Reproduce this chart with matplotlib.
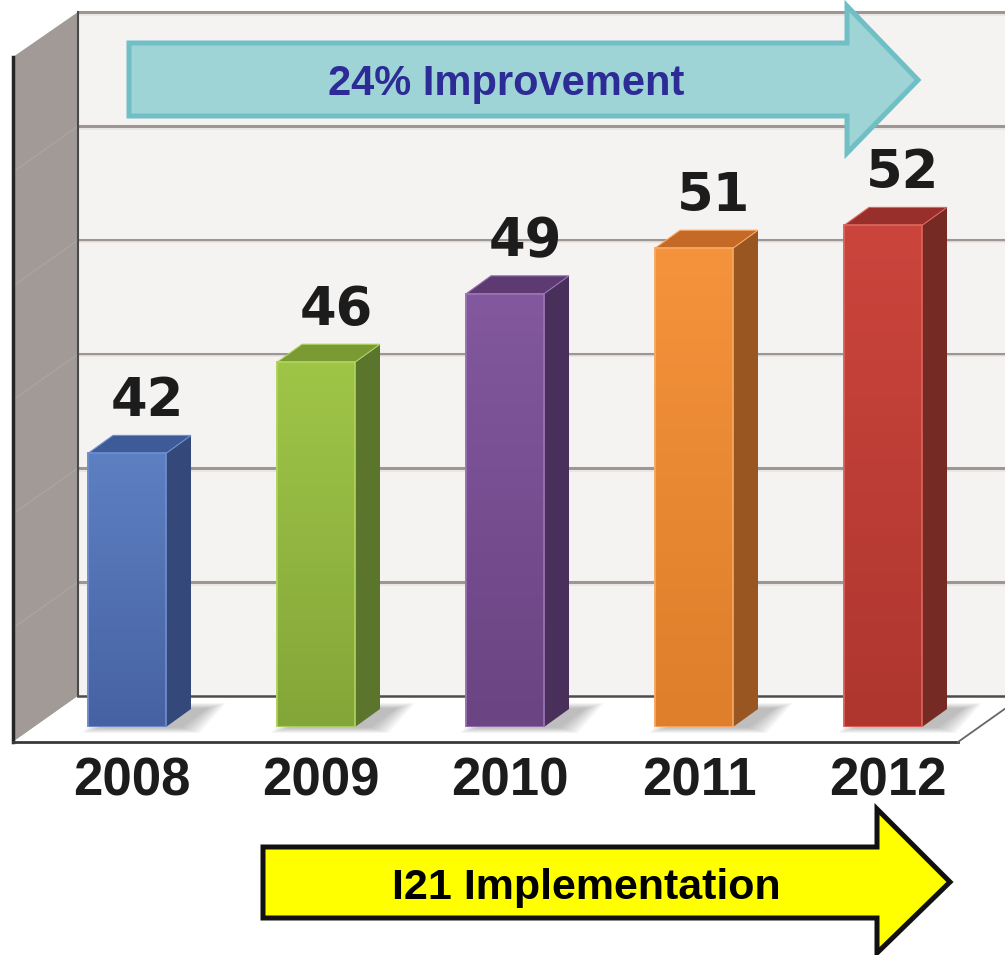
import numpy as np
import matplotlib
matplotlib.use('Agg')
import matplotlib.pyplot as plt
from matplotlib.patches import Polygon, Rectangle
from matplotlib.transforms import ScaledTranslation
from matplotlib.colors import LinearSegmentedColormap

# data
years = ['2008', '2009', '2010', '2011', '2012']
scores = [42, 46, 49, 51, 52]
y_min, y_max, y_step = 30, 60, 5
improvement_text = '24% Improvement'
implementation_text = 'I21 Implementation'

# colours per bar: front top / front bottom / side / top face / edge
front_hi = ['#5d80c2', '#9fc547', '#83589e', '#f4933b', '#cb453c']
front_lo = ['#4762a2', '#84a639', '#6a4483', '#df7e2b', '#ae362f']
side_col = ['#34497a', '#5c752c', '#48305a', '#9a5620', '#762a24']
top_col = ['#3e5b97', '#7a9b34', '#5d3b72', '#c56a26', '#992f2a']
edge_col = ['#6f90cf', '#b0d460', '#9a74b2', '#f8aa66', '#dc675e']

W, H = 1005, 955
fig = plt.figure(figsize=(W / 100, H / 100), dpi=100)
fig.patch.set_facecolor('white')

# pixel axes for the "room" (walls, floor) and for the arrows
bg = fig.add_axes([0, 0, 1, 1], zorder=0)
bg.set_xlim(0, W)
bg.set_ylim(H, 0)
bg.axis('off')

# data axes = front plane of the bars
base_px, top_px = 727, 43
ax = fig.add_axes([0, (H - base_px) / H, 1, (base_px - top_px) / H], zorder=1)
ax.patch.set_alpha(0)
ax.set_ylim(y_min, y_max)
ax.set_xlim(-127 / 189, (W - 127) / 189)
for s in ax.spines.values():
    s.set_visible(False)
ax.set_yticks([])

fg = fig.add_axes([0, 0, 1, 1], zorder=2)
fg.set_xlim(0, W)
fg.set_ylim(H, 0)
fg.axis('off')


def to_px(x, y):
    return bg.transData.inverted().transform(ax.transData.transform((x, y)))


# back wall sits 44px right / 31px up from the bar front plane
wall_dx, wall_dy = 44, 31
floor_dx, floor_dy = 65, 46
g = {v: to_px(0, v)[1] - wall_dy for v in range(y_min, y_max + 1, y_step)}
wall_x = to_px(-127 / 189, 0)[0] + 78
left_x = wall_x - floor_dx

bg.add_patch(Rectangle((wall_x, g[y_max]), W - wall_x, g[y_min] - g[y_max],
                       facecolor='#f5f3f2', edgecolor='none'))
bg.add_patch(Polygon([(left_x, g[y_max] + floor_dy - 1), (wall_x, g[y_max]),
                      (wall_x, g[y_min]), (left_x, g[y_min] + floor_dy)],
                     closed=True, facecolor='#a19a96', edgecolor='none'))
for v in range(y_min + y_step, y_max, y_step):
    bg.plot([wall_x, left_x], [g[v], g[v] + floor_dy], color='#aba5a1', lw=1)

# floor
fr = W - 47
bg.add_patch(Polygon([(wall_x, g[y_min]), (fr + floor_dx, g[y_min]),
                      (fr, g[y_min] + floor_dy), (left_x, g[y_min] + floor_dy)],
                     closed=True, facecolor='white', edgecolor='none'))

# gridlines on back wall
for v in range(y_min + y_step, y_max + 1, y_step):
    bg.plot([wall_x, W], [g[v], g[v]], color='#9d9693', lw=2.2, solid_capstyle='butt')
    bg.plot([wall_x, W], [g[v] + 2.5, g[v] + 2.5], color='#e9e4e2', lw=1.2)
bg.plot([wall_x, W], [g[y_min], g[y_min]], color='#4d4d4d', lw=1.8)
bg.plot([wall_x, wall_x], [g[y_max], g[y_min]], color='#4a4a4a', lw=1.5)
bg.plot([left_x, left_x], [g[y_max] + floor_dy - 1, g[y_min] + floor_dy],
        color='#262626', lw=2.5)
bg.plot([left_x, fr], [g[y_min] + floor_dy] * 2, color='#3a3a3a', lw=2)
bg.plot([fr, fr + floor_dx], [g[y_min] + floor_dy, g[y_min]], color='#666666', lw=1.3)

# bars
bw = 78 / 189
p0 = ax.transData.transform((0, y_min))
ddx, ddy = ax.transData.inverted().transform(p0 + np.array([25, 18])) - np.array([0, y_min])

for i, v in enumerate(scores):
    xl, xr = i - bw / 2, i + bw / 2

    # soft shadow on the floor
    bl = to_px(xl, y_min)
    br = to_px(xr, y_min)
    for k in range(8):
        e = 2 + 2.5 * k
        bg.add_patch(Polygon([(bl[0] + 14 - e, bl[1] + e * 0.3), (br[0] + 14 + e, br[1] + e * 0.3),
                              (br[0] + 40 + e, br[1] - 18 - e * 0.3), (bl[0] + 40 - e, bl[1] - 18 - e * 0.3)],
                             closed=True, facecolor='#5e5e5e', edgecolor='none', alpha=0.06))

    bar = ax.bar(i, v - y_min, bottom=y_min, width=bw, color=front_lo[i],
                 edgecolor=edge_col[i], linewidth=1.2, zorder=3)[0]
    cmap = LinearSegmentedColormap.from_list('f%d' % i, [front_lo[i], front_hi[i]])
    im = ax.imshow(np.linspace(0, 1, 100).reshape(-1, 1), cmap=cmap,
                   extent=(xl, xr, y_min, v), aspect='auto', origin='lower',
                   zorder=3.5, vmin=0, vmax=1)
    im.set_clip_path(bar)
    ax.add_patch(Rectangle((xl, y_min), bw, v - y_min, facecolor='none',
                           edgecolor=edge_col[i], lw=1.2, zorder=3.6))
    ax.add_patch(Polygon([(xr, y_min), (xr + ddx, y_min + ddy), (xr + ddx, v + ddy), (xr, v)],
                         closed=True, facecolor=side_col[i], edgecolor='none', zorder=3))
    ax.add_patch(Polygon([(xl, v), (xr, v), (xr + ddx, v + ddy), (xl + ddx, v + ddy)],
                         closed=True, facecolor=top_col[i], edgecolor=edge_col[i],
                         lw=0.8, zorder=3))
    ax.annotate(str(v), xy=(i, v), xytext=(20, 37), textcoords='offset pixels',
                ha='center', va='baseline', fontsize=38, fontweight='bold',
                family='DejaVu Sans', color='#1c1c1c', zorder=5)

ax.set_xlim(-127 / 189, (W - 127) / 189)
ax.set_ylim(y_min, y_max)

ax.set_xticks(range(len(years)))
ax.set_xticklabels(years, fontsize=38, fontweight='bold', family='Liberation Sans',
                   color='#1c1c1c')
ax.tick_params(axis='x', length=0, pad=21)
for lbl in ax.get_xticklabels():
    lbl.set_transform(lbl.get_transform() + ScaledTranslation(5 / 100, 0, fig.dpi_scale_trans))

# arrows
fg.add_patch(Polygon([(129, 43), (847, 43), (847, 6), (918, 80), (847, 153),
                      (847, 116), (129, 116)], closed=True, facecolor='#9fd4d7',
                     edgecolor='#70bfc5', lw=3.6, joinstyle='miter'))
fg.text(506, 95, improvement_text, ha='center', va='baseline', fontsize=30,
        fontweight='bold', family='Liberation Sans', color='#2d2b95')

fg.add_patch(Polygon([(263, 847), (877, 847), (877, 809), (950, 882), (877, 953),
                      (877, 918), (263, 918)], closed=True, facecolor='#ffff00',
                     edgecolor='#111111', lw=3.6, joinstyle='miter'))
fg.text(586, 899, implementation_text, ha='center', va='baseline', fontsize=31,
        fontweight='bold', family='Liberation Sans', color='black')

fig.savefig('out.png', dpi=100, facecolor='white')
